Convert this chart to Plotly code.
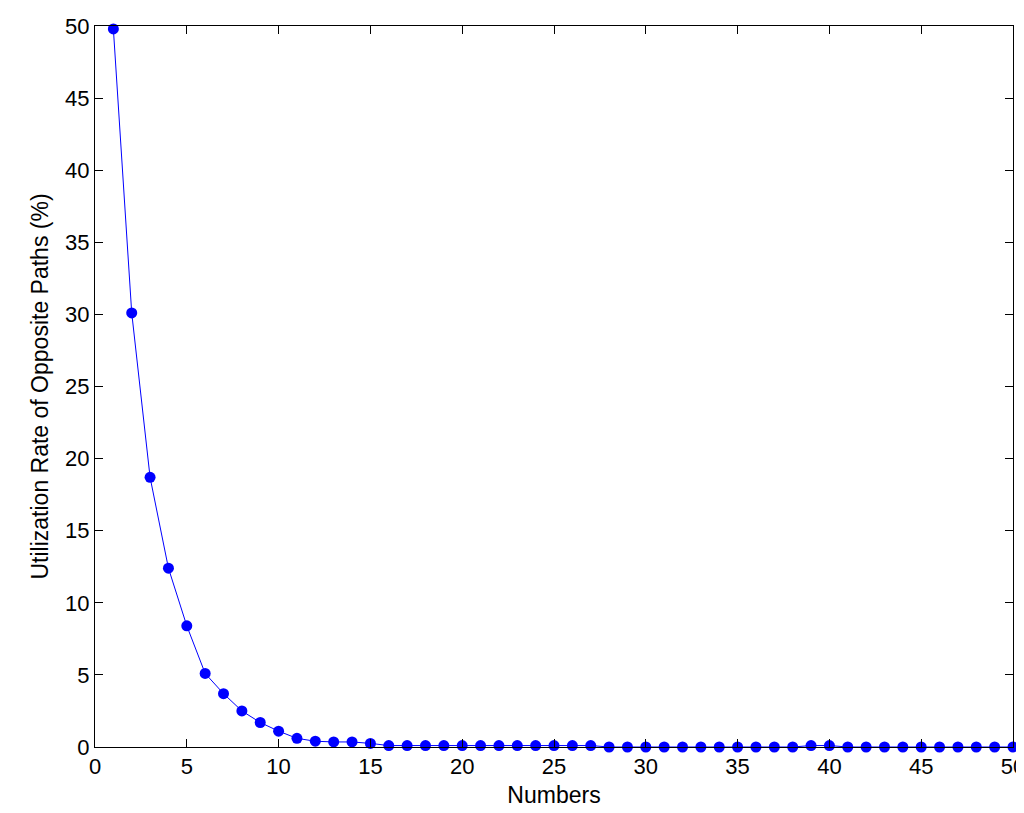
import plotly.graph_objects as go

numbers = list(range(1, 51))
rates = [49.8, 30.1, 18.7, 12.4, 8.4, 5.1, 3.7, 2.5, 1.7, 1.1,
         0.6, 0.4, 0.35, 0.35, 0.25, 0.1, 0.1, 0.1, 0.1, 0.1,
         0.1, 0.1, 0.1, 0.1, 0.1, 0.1, 0.1, 0.0, 0.0, 0.0,
         0.0, 0.0, 0.0, 0.0, 0.0, 0.0, 0.0, 0.0, 0.1, 0.1,
         0.0, 0.0, 0.0, 0.0, 0.0, 0.0, 0.0, 0.0, 0.0, 0.0]

fig = go.Figure(go.Scatter(x=numbers, y=rates, mode="lines+markers",
                           line=dict(color="#0000ff", width=1),
                           marker=dict(color="#0000ff", size=11),
                           cliponaxis=False))
ax = dict(showgrid=False, zeroline=False, showline=True, mirror="ticks",
          linecolor="black", linewidth=1, ticks="inside", ticklen=8,
          tickcolor="black", tickfont=dict(size=22, color="black"),
          automargin=False)
fig.update_layout(
    width=1024, height=813, plot_bgcolor="white", paper_bgcolor="white",
    margin=dict(l=87, r=19, t=18, b=74), showlegend=False,
    font=dict(family="Liberation Sans, Arial", color="black"),
    xaxis=dict(range=[0, 50], dtick=5, title=dict(text="Numbers", font=dict(size=23), standoff=8), **ax),
    yaxis=dict(range=[0, 50], dtick=5, title=dict(text="Utilization Rate of Opposite Paths (%)", font=dict(size=23), standoff=10), **ax),
)
fig.write_html("out.html")
